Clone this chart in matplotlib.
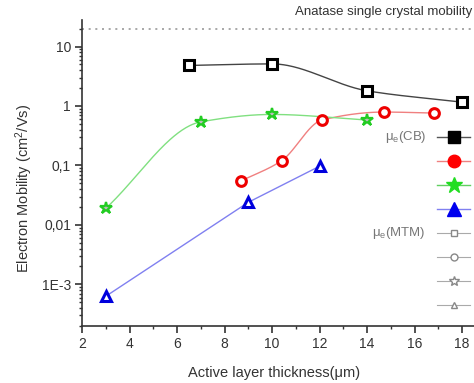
import numpy as np
import matplotlib
matplotlib.use("Agg")
import matplotlib.pyplot as plt
from matplotlib.lines import Line2D
from matplotlib.ticker import FixedLocator, FixedFormatter, LogLocator, MultipleLocator, NullFormatter

plt.rcParams['font.family'] = ['Liberation Sans', 'DejaVu Sans']
plt.rcParams['mathtext.fontset'] = 'custom'
plt.rcParams['mathtext.rm'] = 'Liberation Sans'
plt.rcParams['mathtext.it'] = 'Liberation Sans'

# data
x_sq = [6.5, 10.0, 14.0, 18.0]
y_sq = [4.8, 5.1, 1.8, 1.16]
x_ci = [8.7, 10.4, 12.1, 14.7, 16.8]
y_ci = [0.055, 0.12, 0.58, 0.79, 0.76]
x_st = [3.0, 7.0, 10.0, 14.0]
y_st = [0.019, 0.54, 0.72, 0.58]
x_tr = [3.0, 9.0, 12.0]
y_tr = [6.3e-4, 0.024, 0.097]

single_crystal = 20
ytick_vals = [1e-3, 1e-2, 1e-1, 1, 10]
ytick_labels = ['1E-3', '0,01', '0,1', '1', '10']


def pchip(x, y, xs):
    """Monotone cubic (PCHIP) through points, done in numpy."""
    x = np.asarray(x, float)
    y = np.asarray(y, float)
    h = np.diff(x)
    d = np.diff(y) / h
    m = np.zeros_like(y)
    m[0], m[-1] = d[0], d[-1]
    for k in range(1, len(x) - 1):
        if d[k - 1] * d[k] > 0:
            w1 = 2 * h[k] + h[k - 1]
            w2 = h[k] + 2 * h[k - 1]
            m[k] = (w1 + w2) / (w1 / d[k - 1] + w2 / d[k])
    out = np.empty_like(xs)
    for i, xv in enumerate(xs):
        k = min(np.searchsorted(x, xv, side='right') - 1, len(x) - 2)
        t = (xv - x[k]) / h[k]
        h00 = 2 * t**3 - 3 * t**2 + 1
        h10 = t**3 - 2 * t**2 + t
        h01 = -2 * t**3 + 3 * t**2
        h11 = t**3 - t**2
        out[i] = h00 * y[k] + h10 * h[k] * m[k] + h01 * y[k + 1] + h11 * h[k] * m[k + 1]
    return out


def smooth_log(x, y):
    xs = np.linspace(x[0], x[-1], 200)
    return xs, 10 ** pchip(x, np.log10(y), xs)


fig = plt.figure(figsize=(4.74, 3.83), dpi=100)
ax = fig.add_axes([0.173, 0.149, 0.827, 0.799])
ax.set_yscale('log')

gray = '#333333'

# fitted curves
xs, ys = smooth_log(x_sq, y_sq)
ax.plot(xs, ys, color='#444444', lw=1.0)
xs, ys = smooth_log(x_ci, y_ci)
ax.plot(xs, ys, color='#f08080', lw=1.0)
xs, ys = smooth_log(x_st, y_st)
ax.plot(xs, ys, color='#80e080', lw=1.0)
ax.plot(x_tr, y_tr, color='#8080f0', lw=1.0)

mk = dict(ls='none', mfc='white', mew=2.2, ms=7)
ax.plot(x_sq, y_sq, marker='s', mec='black', **mk)
ax.plot(x_ci, y_ci, marker='o', mec='#ee0000', **mk)
ax.plot(x_st, y_st, marker='*', mec='#22cc22', mew=1.6, ms=9, ls='none', mfc='#bbbbbb')
ax.plot(x_tr, y_tr, marker='^', mec='#0000dd', **mk)

ax.axhline(single_crystal, color='#999999', lw=1.2, ls=(0, (1.2, 2.8)))
ax.text(0.995, 1.005, 'Anatase single crystal mobility', transform=ax.transAxes,
        ha='right', va='bottom', fontsize=9.5, color=gray, clip_on=False)

ax.set_xlim(2, 18.5)
ax.set_ylim(2e-4, 28)
ax.xaxis.set_major_locator(MultipleLocator(2))
ax.xaxis.set_minor_locator(MultipleLocator(1))
ax.yaxis.set_major_locator(FixedLocator(ytick_vals))
ax.yaxis.set_major_formatter(FixedFormatter(ytick_labels))
ax.yaxis.set_minor_locator(LogLocator(base=10, subs=np.arange(2, 10)))
ax.yaxis.set_minor_formatter(NullFormatter())

for s in ['top', 'right']:
    ax.spines[s].set_visible(False)
for s in ['left', 'bottom']:
    ax.spines[s].set_color(gray)
    ax.spines[s].set_linewidth(1.2)
ax.tick_params(which='major', direction='out', length=5, width=1.2, color=gray,
               labelsize=10, labelcolor=gray, pad=3)
ax.tick_params(which='minor', direction='out', length=2.5, width=1.0, color=gray)

ax.set_xlabel('Active layer thickness(\u03bcm)', fontsize=10.5, color=gray)
ax.set_ylabel('Electron Mobility (cm$^2$/Vs)', fontsize=10.5, color=gray)
ax.xaxis.set_label_coords(0.49, -0.13)
ax.yaxis.set_label_coords(-0.12, 0.45)

# legend: sample labels sit past the right edge in the reference, so leave them blank
handles = [
    Line2D([], [], color='#555555', marker='s', mfc='black', mec='black', ms=8, lw=1.0),
    Line2D([], [], color='#f08080', marker='o', mfc='#ff0000', mec='#ff0000', ms=9, lw=1.0),
    Line2D([], [], color='#60d060', marker='*', mfc='#22dd22', mec='#22dd22', ms=12, lw=1.0),
    Line2D([], [], color='#8080f0', marker='^', mfc='#0000ee', mec='#0000ee', ms=10, lw=1.0),
    Line2D([], [], color='#aaaaaa', marker='s', mfc='white', mec='#888888', ms=5, lw=0.8),
    Line2D([], [], color='#aaaaaa', marker='o', mfc='white', mec='#888888', ms=5, lw=0.8),
    Line2D([], [], color='#aaaaaa', marker='*', mfc='white', mec='#888888', ms=7, lw=0.8),
    Line2D([], [], color='#aaaaaa', marker='^', mfc='white', mec='#888888', ms=5, lw=0.8),
]
labels = [' '] * 8
fig.legend(handles, labels, loc='upper left', bbox_to_anchor=(437 / 474, 1 - 131 / 383),
           frameon=False, fontsize=10, handlelength=2.4, borderpad=0, borderaxespad=0,
           labelspacing=0.72, handletextpad=0.5)
fig.text(385 / 474, 1 - 137 / 383, '$\\mu_e$(CB)', fontsize=9.5, color='#777777', va='center')
fig.text(372 / 474, 1 - 233 / 383, '$\\mu_e$(MTM)', fontsize=9.5, color='#777777', va='center')

fig.savefig('out.png', dpi=100)
